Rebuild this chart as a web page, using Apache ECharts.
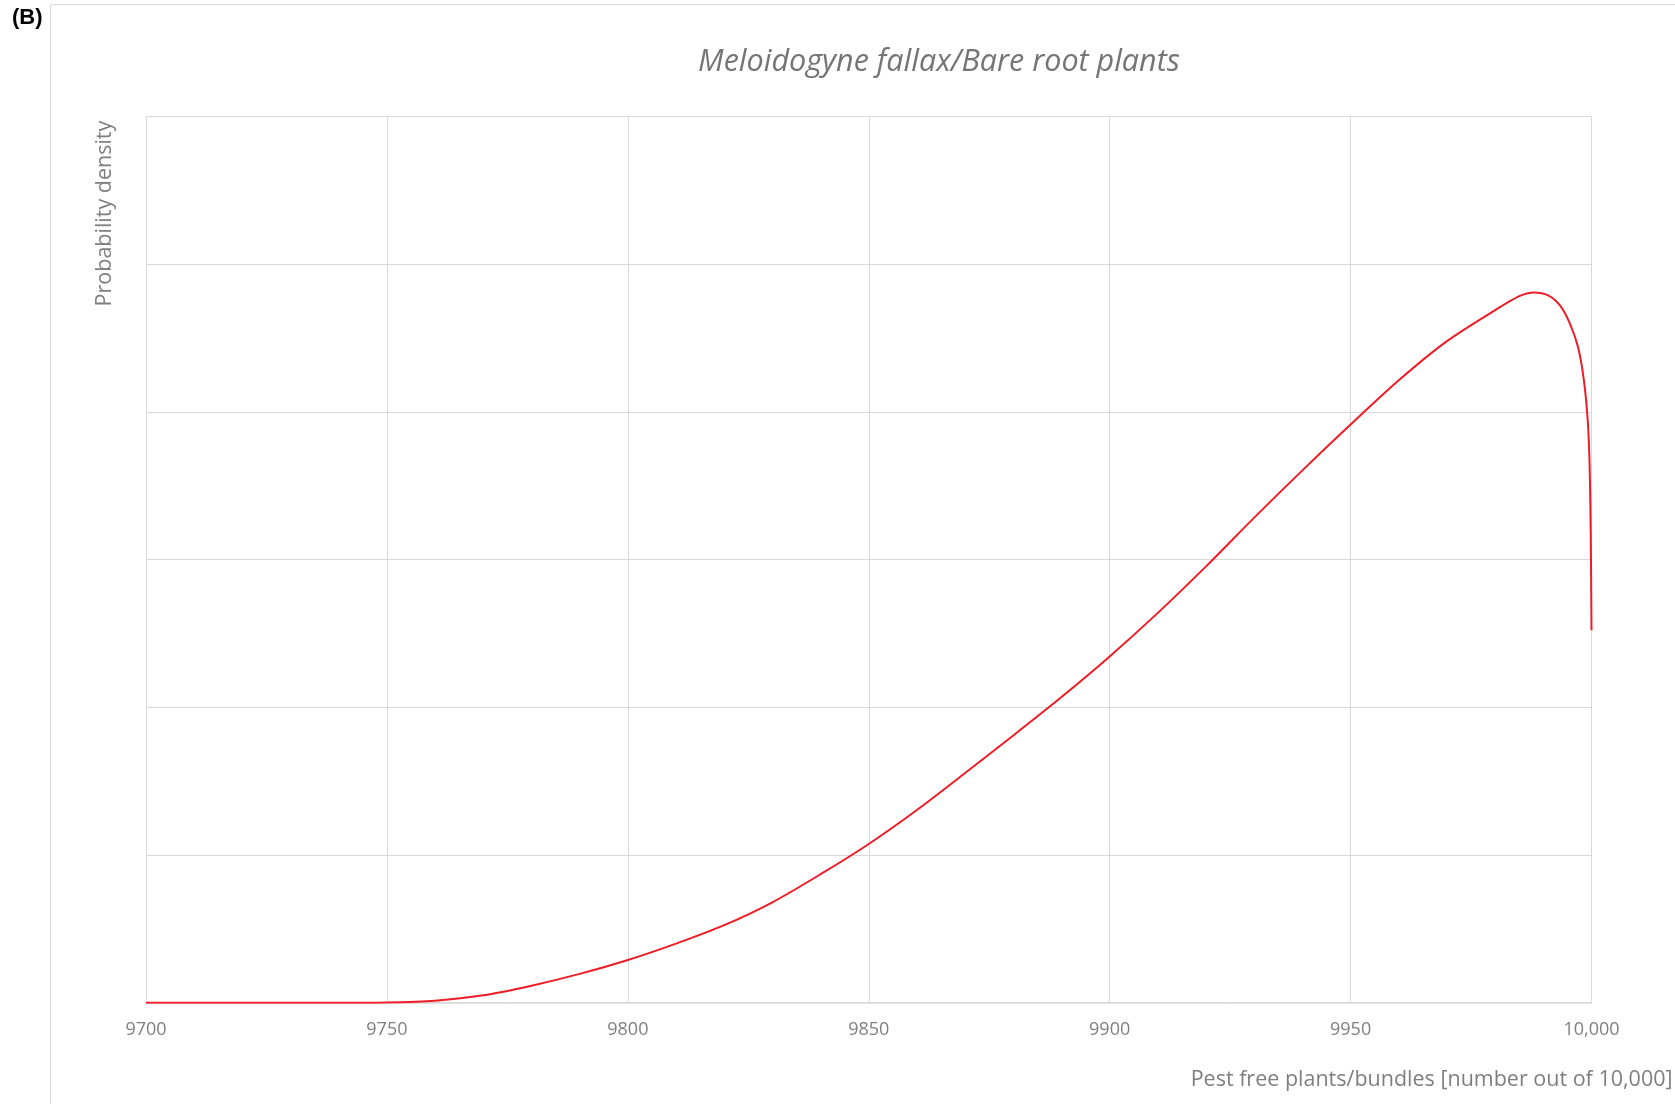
<!DOCTYPE html>
<html>
<head>
<meta charset="utf-8">
<script src="https://cdn.jsdelivr.net/npm/echarts@6/dist/echarts.min.js"></script>
<style>
  html, body { margin: 0; padding: 0; background: #fff; }
  #chart { width: 1675px; height: 1104px; }
</style>
</head>
<body>
<div id="chart"></div>
<script>
// values (y has no labels, gridline = 1 unit)
var pestFree = [9700, 9710, 9720, 9730, 9740, 9750, 9760, 9770, 9780, 9790,
    9800, 9810, 9820, 9830, 9840, 9850, 9860, 9870, 9880, 9890,
    9900, 9910, 9920, 9930, 9940, 9950, 9960, 9970, 9980, 9985,
    9988, 9991, 9993.5, 9995.5, 9997.2, 9998.4, 9999.2, 9999.6, 9999.85, 10000];
var density = [0, 0, 0, 0, 0, 0.002, 0.014, 0.05, 0.115, 0.195,
    0.289, 0.40, 0.525, 0.68, 0.87, 1.075, 1.305, 1.555, 1.81, 2.07,
    2.345, 2.64, 2.955, 3.285, 3.605, 3.915, 4.215, 4.48, 4.69, 4.785,
    4.81, 4.79, 4.72, 4.60, 4.44, 4.22, 3.95, 3.65, 3.15, 2.523];
var xTicks = [9700, 9750, 9800, 9850, 9900, 9950, 10000];

var points = pestFree.map(function (x, i) { return [x, density[i]]; });

var grey = '#7f7f7f';
var font = '"Open Sans", Calibri, sans-serif';

var chart = echarts.init(document.getElementById('chart'));
chart.setOption({
    animation: false,
    backgroundColor: '#fff',
    title: {
        text: 'Meloidogyne fallax/Bare root plants',
        left: 934,
        textAlign: 'center',
        top: 42,
        textStyle: {
            fontFamily: font,
            fontStyle: 'italic',
            fontWeight: 'normal',
            fontSize: 30.5,
            color: '#757575'
        }
    },
    graphic: [
        {
            type: 'rect',
            z: -10,
            silent: true,
            shape: {x: 50.5, y: 4.5, width: 1700, height: 1200},
            style: {fill: 'none', stroke: '#d9d9d9', lineWidth: 1}
        },
        {
            type: 'text',
            left: 12,
            top: 7,
            style: {
                text: '(B)',
                fontFamily: '"Liberation Sans", Arial, sans-serif',
                fontWeight: 'bold',
                fontSize: 22,
                fill: '#000'
            }
        }
    ],
    grid: {
        left: 146,
        right: 83.5,
        top: 116.7,
        bottom: 101.3,
        outerBoundsMode: 'none'
    },
    xAxis: {
        type: 'value',
        min: 9700,
        max: 10000,
        interval: 50,
        name: 'Pest free plants/bundles [number out of 10,000]',
        nameLocation: 'end',
        nameGap: 81,
        nameMoveOverlap: false,
        nameTextStyle: {
            fontFamily: font,
            fontSize: 21.5,
            color: grey,
            align: 'right',
            verticalAlign: 'top',
            padding: [66, 0, 0, 0]
        },
        axisLine: {show: true, lineStyle: {color: '#d9d9d9', width: 1.5}},
        axisTick: {show: false},
        splitLine: {show: true, lineStyle: {color: '#d9d9d9', width: 1}},
        axisLabel: {
            margin: 18,
            fontFamily: font,
            fontSize: 18,
            color: grey,
            formatter: function (v) {
                if (xTicks.indexOf(v) < 0) return '';
                return v >= 10000 ? '10,000' : String(v);
            }
        }
    },
    yAxis: {
        type: 'value',
        min: 0,
        max: 6,
        interval: 1,
        name: 'Probability density',
        nameLocation: 'end',
        nameRotate: 90,
        nameGap: -4,
        nameMoveOverlap: false,
        nameTextStyle: {
            fontFamily: font,
            fontSize: 21.5,
            color: grey,
            align: 'right',
            verticalAlign: 'bottom',
            padding: [0, 0, 30, 0]
        },
        axisLine: {show: false},
        axisTick: {show: false},
        axisLabel: {show: false},
        splitLine: {show: true, lineStyle: {color: '#d9d9d9', width: 1}}
    },
    series: [{
        type: 'line',
        data: points,
        showSymbol: false,
        smooth: 0.3,
        lineStyle: {color: '#ee1c25', width: 2},
        itemStyle: {color: '#ee1c25'}
    }]
});
</script>
</body>
</html>
